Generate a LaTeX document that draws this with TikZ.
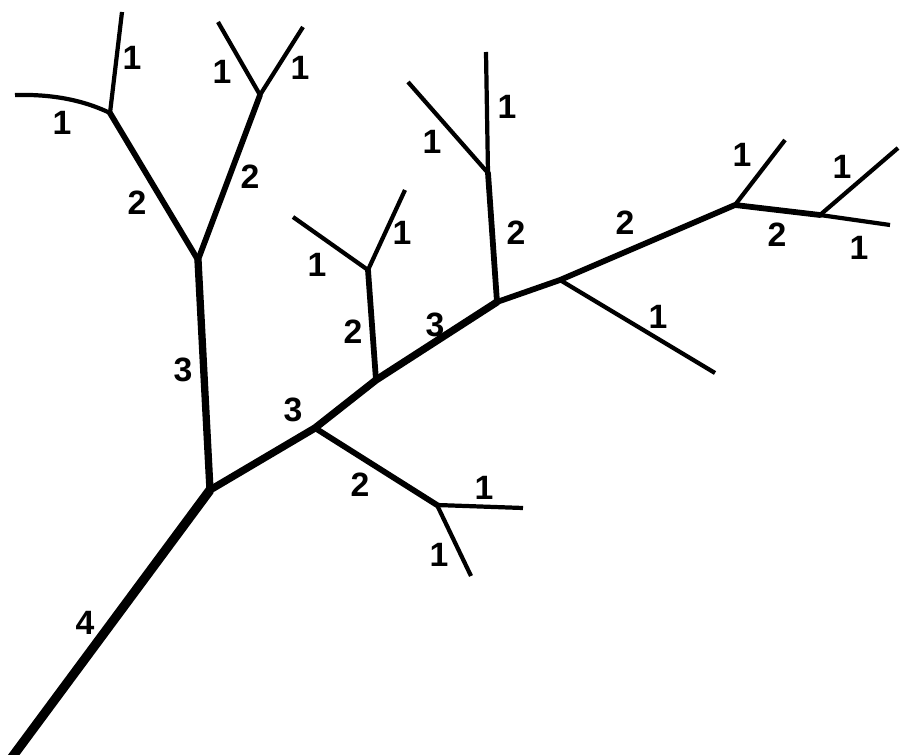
\documentclass[tikz,border=0pt]{standalone}
\usepackage{fontspec}
\setmainfont{Liberation Sans}
\begin{document}
\begin{tikzpicture}[x=0.025cm,y=-0.025cm,
  ordfour/.style={line width=6.6pt,line cap=butt,line join=round},
  ordthree/.style={line width=5.2pt,line cap=round,line join=round},
  ordtwo/.style={line width=4.1pt,line cap=round,line join=round},
  ordone/.style={line width=3.0pt,line cap=butt,line join=round},
  lbl/.style={font=\fontsize{24}{24}\selectfont\bfseries,inner sep=0pt}]
\useasboundingbox (0,0) rectangle (903,755);
% junctions and ends
\coordinate (T) at (10,760);
\coordinate (A) at (210,490);
\coordinate (B) at (198,260);
\coordinate (C) at (110,113);
\coordinate (D) at (260,95);
\coordinate (C1) at (15,95);
\coordinate (C2) at (122,12);
\coordinate (D1) at (218,22);
\coordinate (D2) at (303,27);
\coordinate (E) at (315,428);
\coordinate (F) at (437,505);
\coordinate (F1) at (523,508);
\coordinate (F2) at (471,576);
\coordinate (G) at (376,380);
\coordinate (H) at (368,270);
\coordinate (H1) at (293,217);
\coordinate (H2) at (405,190);
\coordinate (I) at (497,302);
\coordinate (K) at (488,173);
\coordinate (K1) at (408,82);
\coordinate (K2) at (486,52);
\coordinate (L) at (560,280);
\coordinate (L1) at (715,373);
\coordinate (M) at (735,205);
\coordinate (M1) at (785,140);
\coordinate (N) at (820,215);
\coordinate (N1) at (898,148);
\coordinate (N2) at (890,225);
% order 4
\draw[ordfour] (T) -- (A);
% order 3
\draw[ordthree] (A) -- (B);
\draw[ordthree] (A) -- (E) -- (G) -- (I);
% order 2
\draw[ordtwo] (B) -- (C);
\draw[ordtwo] (B) -- (D);
\draw[ordtwo] (E) -- (F);
\draw[ordtwo] (G) -- (H);
\draw[ordtwo] (I) -- (K);
\draw[ordtwo] (I) -- (L) -- (M) -- (N);
% order 1
\draw[ordone] (C) .. controls (85,101) and (55,94) .. (C1);
\draw[ordone] (C) -- (C2);
\draw[ordone] (D) -- (D1);
\draw[ordone] (D) -- (D2);
\draw[ordone] (F) -- (F1);
\draw[ordone] (F) -- (F2);
\draw[ordone] (H) -- (H1);
\draw[ordone] (H) -- (H2);
\draw[ordone] (K) -- (K1);
\draw[ordone] (K) -- (K2);
\draw[ordone] (L) -- (L1);
\draw[ordone] (M) -- (M1);
\draw[ordone] (N) -- (N1);
\draw[ordone] (N) -- (N2);
% labels
\node[lbl] (l1) at (62,123) {1};
\node[lbl] (l2) at (132,58) {1};
\node[lbl] (l3) at (137,203) {2};
\node[lbl] (l4) at (250,177) {2};
\node[lbl] (l5) at (222,72) {1};
\node[lbl] (l6) at (300,68) {1};
\node[lbl] (l7) at (183,370) {3};
\node[lbl] (l8) at (85,623) {4};
\node[lbl] (l9) at (293,410) {3};
\node[lbl] (l10) at (360,485) {2};
\node[lbl] (l11) at (484,488) {1};
\node[lbl] (l12) at (439,555) {1};
\node[lbl] (l13) at (353,332) {2};
\node[lbl] (l14) at (317,265) {1};
\node[lbl] (l15) at (402,233) {1};
\node[lbl] (l16) at (435,325) {3};
\node[lbl] (l17) at (516,233) {2};
\node[lbl] (l18) at (432,142) {1};
\node[lbl] (l19) at (507,107) {1};
\node[lbl] (l20) at (625,223) {2};
\node[lbl] (l21) at (658,317) {1};
\node[lbl] (l22) at (742,155) {1};
\node[lbl] (l23) at (777,235) {2};
\node[lbl] (l24) at (842,167) {1};
\node[lbl] (l25) at (859,248) {1};
\end{tikzpicture}
\end{document}
